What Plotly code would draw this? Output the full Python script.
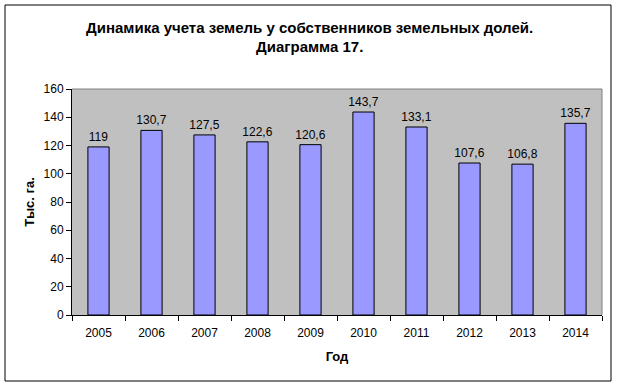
import plotly.graph_objects as go

years = ["2005", "2006", "2007", "2008", "2009", "2010", "2011", "2012", "2013", "2014"]
values = [119, 130.7, 127.5, 122.6, 120.6, 143.7, 133.1, 107.6, 106.8, 135.7]
labels = [("%g" % v).replace(".", ",") for v in values]
yticks = [0, 20, 40, 60, 80, 100, 120, 140, 160]

L, R, T, B = 72, 16, 89, 71
PW, PH = 618 - L - R, 386 - T - B

fig = go.Figure(go.Bar(
    x=years, y=values, text=labels, textposition="outside",
    textfont=dict(family="Arial, Liberation Sans", size=12, color="black"),
    constraintext="none",
    marker=dict(color="#9999FF", line=dict(color="black", width=1)),
    width=0.4, cliponaxis=False,
))

fig.update_layout(
    width=618, height=386,
    margin=dict(l=L, r=R, t=T, b=B, autoexpand=False),
    paper_bgcolor="white", plot_bgcolor="#C0C0C0",
    showlegend=False,
    uniformtext=dict(minsize=12, mode="show"),
    font=dict(family="Arial, Liberation Sans", size=12, color="black"),
    xaxis=dict(type="category", tickson="boundaries", ticks="outside", ticklen=5,
               tickcolor="black", showline=True, linecolor="black", linewidth=1,
               showgrid=False, automargin=False, ticklabelstandoff=7,
               title=dict(text="<b>Год</b>", standoff=12, font=dict(size=13))),
    yaxis=dict(range=[0, 160], tickvals=yticks, ticks="outside", ticklen=5,
               tickcolor="black", showline=True, linecolor="black", linewidth=1,
               showgrid=False, zeroline=False, automargin=False,
               title=dict(text="<b>Тыс. га.</b>", standoff=6, font=dict(size=13))),
    annotations=[
        dict(text="<b>Динамика учета земель у собственников земельных долей.</b>",
             xref="paper", yref="paper", x=(309 - L) / PW, y=1 + (T - 27) / PH,
             xanchor="center", yanchor="middle", showarrow=False,
             font=dict(size=15)),
        dict(text="<b>Диаграмма 17.</b>",
             xref="paper", yref="paper", x=(309 - L) / PW, y=1 + (T - 47) / PH,
             xanchor="center", yanchor="middle", showarrow=False,
             font=dict(size=15)),
    ],
    shapes=[
        dict(type="line", xref="paper", yref="paper", x0=0, x1=1, y0=1, y1=1,
             line=dict(color="#808080", width=1)),
        dict(type="line", xref="paper", yref="paper", x0=1, x1=1, y0=0, y1=1,
             line=dict(color="#808080", width=1)),
        dict(type="rect", xref="paper", yref="paper",
             x0=-(L - 5) / PW, x1=1 + 9 / PW, y0=-(381 - 315) / PH, y1=1 + (T - 5) / PH,
             line=dict(color="black", width=1)),
    ],
)

fig.write_html("out.html", config={"displayModeBar": False},
               post_script="document.body.style.margin='0px';")
